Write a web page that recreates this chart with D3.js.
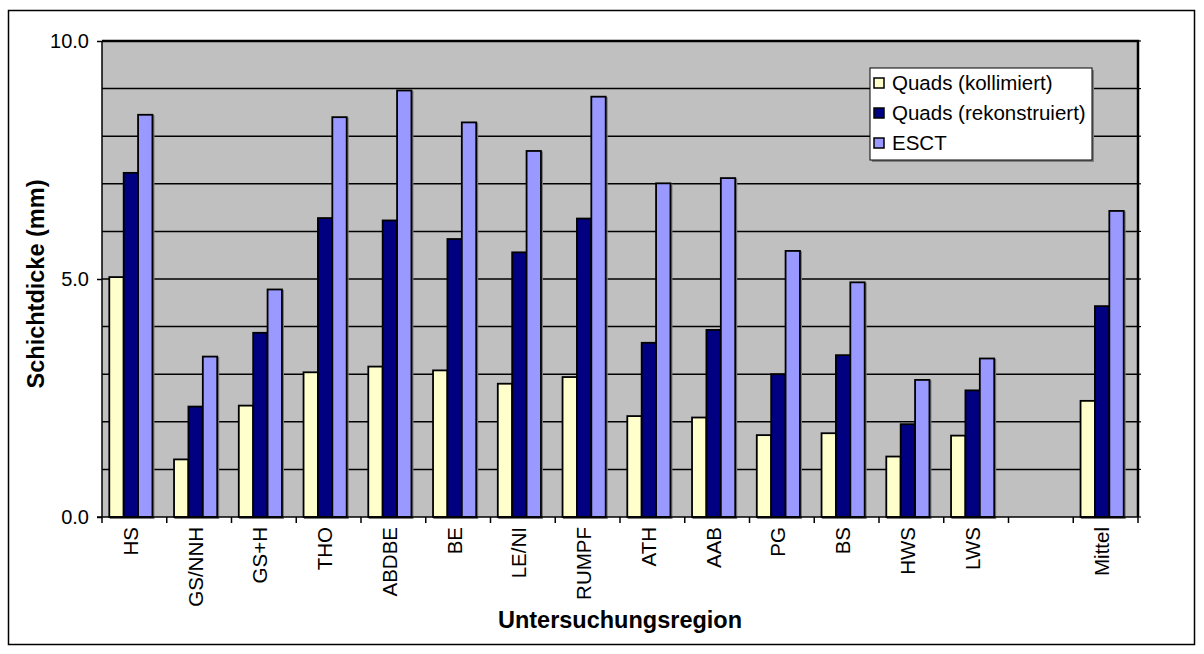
<!DOCTYPE html>
<html>
<head>
<meta charset="utf-8">
<script src="https://cdn.jsdelivr.net/npm/d3@7/dist/d3.min.js"></script>
<style>
  html, body { margin: 0; padding: 0; background: #fff; }
  svg { display: block; font-family: "Liberation Sans", Arial, sans-serif; }
</style>
</head>
<body>
<svg id="chart" width="1204" height="654"></svg>
<script>
// Regions (one blank slot before the mean column)
const categories = ["HS", "GS/NNH", "GS+H", "THO", "ABDBE", "BE", "LE/NI", "RUMPF",
                    "ATH", "AAB", "PG", "BS", "HWS", "LWS", " ", "Mittel"];
const seriesNames = ["Quads (kollimiert)", "Quads (rekonstruiert)", "ESCT"];
const quadsKollimiert   = [5.04, 1.21, 2.34, 3.04, 3.16, 3.08, 2.80, 2.94, 2.12, 2.09, 1.72, 1.76, 1.27, 1.71, null, 2.44];
const quadsRekonstruiert = [7.23, 2.32, 3.87, 6.28, 6.23, 5.84, 5.56, 6.27, 3.66, 3.93, 3.00, 3.40, 1.95, 2.66, null, 4.43];
const esct              = [8.45, 3.37, 4.78, 8.40, 8.96, 8.29, 7.69, 8.83, 7.01, 7.12, 5.59, 4.93, 2.88, 3.33, null, 6.43];
const yTickLabels = [0, 5, 10];
const yGridValues = [1, 2, 3, 4, 5, 6, 7, 8, 9, 10];
const colors = ["#FFFFCC", "#000080", "#9999FF"];

const svg = d3.select("#chart");
const plot = { left: 102, right: 1138, top: 41, bottom: 517 };

// chart frame
svg.append("rect")
  .attr("x", 8.5).attr("y", 10.5).attr("width", 1186).attr("height", 634)
  .attr("fill", "#fff").attr("stroke", "#000").attr("stroke-width", 1.5);

const x = d3.scaleBand().domain(categories).range([plot.left, plot.right]).padding(0);
const xs = d3.scaleBand().domain(seriesNames).range([0, x.bandwidth()])
  .paddingInner(0).paddingOuter(0.75);
const y = d3.scaleLinear().domain([0, 10]).range([plot.bottom, plot.top]);
const groupShift = -3.5;

// plot area background
svg.append("rect")
  .attr("x", plot.left).attr("y", plot.top)
  .attr("width", plot.right - plot.left).attr("height", plot.bottom - plot.top)
  .attr("fill", "#C0C0C0");

// horizontal gridlines
svg.append("g").selectAll("line").data(yGridValues).join("line")
  .attr("x1", plot.left).attr("x2", plot.right)
  .attr("y1", d => y(d)).attr("y2", d => y(d))
  .attr("stroke", "#000").attr("stroke-width", 1.5);

// small ticks on the right edge
svg.append("g").selectAll("line").data([0].concat(yGridValues)).join("line")
  .attr("x1", plot.right).attr("x2", plot.right + 3)
  .attr("y1", d => y(d)).attr("y2", d => y(d))
  .attr("stroke", "#000").attr("stroke-width", 1.2);

// bars
const series = [quadsKollimiert, quadsRekonstruiert, esct];
series.forEach((vals, si) => {
  const data = categories.map((c, i) => ({ c, v: vals[i] })).filter(d => d.v != null);
  const g = svg.append("g");
  // soft shadow
  g.selectAll("rect.sh").data(data).join("rect")
    .attr("class", "sh")
    .attr("x", d => x(d.c) + xs(seriesNames[si]) + groupShift + 1.2)
    .attr("y", d => y(d.v) + 1.2)
    .attr("width", xs.bandwidth())
    .attr("height", d => y(0) - y(d.v))
    .attr("fill", "none").attr("stroke", "#7a7a7a").attr("stroke-width", 1.6);
  g.selectAll("rect.bar").data(data).join("rect")
    .attr("class", "bar")
    .attr("x", d => x(d.c) + xs(seriesNames[si]) + groupShift)
    .attr("y", d => y(d.v))
    .attr("width", xs.bandwidth())
    .attr("height", d => y(0) - y(d.v))
    .attr("fill", colors[si]).attr("stroke", "#000").attr("stroke-width", 1.8);
});

// plot border (top and right)
svg.append("path")
  .attr("d", `M${plot.left},${plot.top}H${plot.right}V${plot.bottom}`)
  .attr("fill", "none").attr("stroke", "#000").attr("stroke-width", 2.5);

// y axis
const yAxis = d3.axisLeft(y).tickValues(yTickLabels).tickFormat(d3.format(".1f"))
  .tickSize(5).tickPadding(8);
const ya = svg.append("g").attr("transform", `translate(${plot.left},0)`).call(yAxis);
ya.select(".domain").attr("stroke-width", 1.5).attr("d", `M0,${plot.top}V${plot.bottom}`);
ya.selectAll(".tick line").attr("stroke-width", 1.5);
ya.selectAll(".tick text").attr("font-size", 20).attr("fill", "#000")
  .attr("font-family", "'Liberation Sans', Arial, sans-serif");

// x axis: ticks at band boundaries
const xa = svg.append("g");
xa.append("line").attr("x1", plot.left - 5).attr("x2", plot.right)
  .attr("y1", plot.bottom).attr("y2", plot.bottom)
  .attr("stroke", "#000").attr("stroke-width", 1.5);
const boundaries = categories.map(c => x(c)).concat([x(categories[categories.length - 1]) + x.bandwidth()]);
xa.selectAll("line.tk").data(boundaries).join("line")
  .attr("class", "tk")
  .attr("x1", d => d).attr("x2", d => d)
  .attr("y1", plot.bottom).attr("y2", plot.bottom + 6)
  .attr("stroke", "#000").attr("stroke-width", 1.5);
xa.selectAll("text").data(categories).join("text")
  .attr("transform", d => `translate(${x(d) + x.bandwidth() / 2 + groupShift + 7},${plot.bottom + 10}) rotate(-90)`)
  .attr("text-anchor", "end")
  .attr("font-size", 20.5)
  .text(d => d.trim());

// axis titles
svg.append("text")
  .attr("x", (plot.left + plot.right) / 2).attr("y", 628)
  .attr("text-anchor", "middle").attr("font-size", 23.5).attr("font-weight", "bold")
  .text("Untersuchungsregion");
svg.append("text")
  .attr("transform", `translate(44,${(plot.top + plot.bottom) / 2 + 5}) rotate(-90)`)
  .attr("text-anchor", "middle").attr("font-size", 23.5).attr("font-weight", "bold")
  .text("Schichtdicke (mm)");

// legend
const lg = svg.append("g").attr("transform", "translate(870,68)");
lg.append("rect").attr("x", 2).attr("y", 2).attr("width", 222).attr("height", 92).attr("fill", "#808080");
lg.append("rect").attr("x", 0).attr("y", 0).attr("width", 222).attr("height", 92)
  .attr("fill", "#fff").attr("stroke", "#000").attr("stroke-width", 1);
const items = lg.selectAll("g.it").data(seriesNames).join("g")
  .attr("class", "it")
  .attr("transform", (d, i) => `translate(4,${15 + i * 30})`);
items.append("rect").attr("x", 0).attr("y", -5).attr("width", 10).attr("height", 10)
  .attr("fill", (d, i) => colors[i]).attr("stroke", "#000").attr("stroke-width", 1.5);
items.append("text").attr("x", 18).attr("y", 7).attr("font-size", 20.5).text(d => d);
</script>
</body>
</html>
